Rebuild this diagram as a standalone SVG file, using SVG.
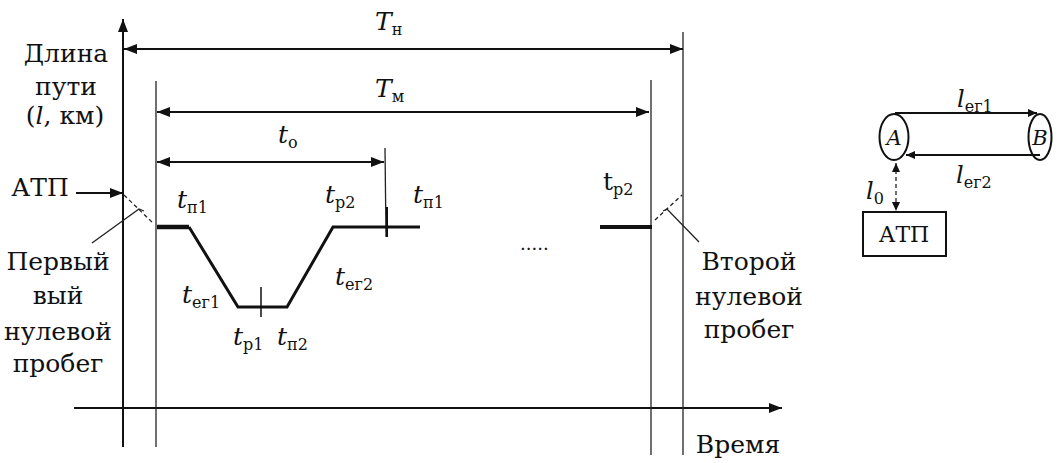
<svg xmlns="http://www.w3.org/2000/svg" width="1060" height="463" viewBox="0 0 1060 463">
<style>
text{fill:#111;font-family:"DejaVu Serif",serif}
.t{font-size:25px}
.s{font-size:16px;font-style:normal}
.i{font-style:italic}
.ln{stroke:#111;fill:none}
.thin{stroke:#222;stroke-width:1.3;fill:none}
.dash{stroke:#222;stroke-width:1.3;stroke-dasharray:4 3;fill:none}
</style>
<defs>
<marker id="ah" markerUnits="userSpaceOnUse" markerWidth="14" markerHeight="10" refX="13" refY="5" orient="auto-start-reverse">
<path d="M0,0 L13,5 L0,10 Z" fill="#111"/>
</marker>
<marker id="ahs" markerUnits="userSpaceOnUse" markerWidth="10" markerHeight="8" refX="9" refY="4" orient="auto-start-reverse">
<path d="M0,0 L9,4 L0,8 Z" fill="#111"/>
</marker>
</defs>
<rect width="1060" height="463" fill="#fff"/>

<g id="axes">
<line class="ln" x1="123" y1="447" x2="123" y2="19" stroke-width="2" marker-end="url(#ah)"/>
<line class="ln" x1="74" y1="408" x2="782" y2="408" stroke-width="2" marker-end="url(#ah)"/>
<text class="t" x="66" y="62" text-anchor="middle">Длина</text>
<text class="t" x="66" y="95" text-anchor="middle">пути</text>
<text class="t" x="65" y="124" text-anchor="middle">(<tspan class="i">l</tspan>, км)</text>
<text class="t" x="738" y="453" text-anchor="middle">Время</text>
</g>

<g id="boundaries">
<line class="thin" x1="156" y1="81" x2="156" y2="447"/>
<line class="thin" x1="651" y1="80" x2="651" y2="455"/>
<line class="thin" x1="683" y1="32" x2="683" y2="455"/>
<line class="thin" x1="385" y1="148" x2="386" y2="237"/>
</g>

<g id="connectors">
<line class="ln" x1="124" y1="49" x2="683" y2="49" stroke-width="2" marker-start="url(#ah)" marker-end="url(#ah)"/>
<line class="ln" x1="157" y1="112" x2="649" y2="112" stroke-width="2" marker-start="url(#ah)" marker-end="url(#ah)"/>
<line class="ln" x1="157" y1="162" x2="384" y2="162" stroke-width="2" marker-start="url(#ah)" marker-end="url(#ah)"/>
<line class="ln" x1="76" y1="193" x2="123" y2="193" stroke-width="2" marker-end="url(#ah)"/>
<line class="dash" x1="124" y1="195" x2="154" y2="224"/>
<polyline class="thin" points="92,243 139,209 144,211"/>
<line class="dash" x1="655" y1="220" x2="682" y2="195"/>
<polyline class="thin" points="699,242 667,209 663,211"/>
</g>

<g id="labels">
<text class="t i" x="375" y="30">T<tspan class="s" dy="5">н</tspan></text>
<text class="t i" x="375" y="97">T<tspan class="s" dy="5">м</tspan></text>
<text class="t i" x="278" y="143">t<tspan class="s" dy="5">о</tspan></text>
<text class="t i" x="177" y="208">t<tspan class="s" dy="5">п1</tspan></text>
<text class="t i" x="325" y="203">t<tspan class="s" dy="5">р2</tspan></text>
<text class="t i" x="413" y="203">t<tspan class="s" dy="5">п1</tspan></text>
<text class="t i" x="182" y="303">t<tspan class="s" dy="5">ег1</tspan></text>
<text class="t i" x="335" y="285">t<tspan class="s" dy="5">ег2</tspan></text>
<text class="t i" x="233" y="345">t<tspan class="s" dy="5">р1</tspan></text>
<text class="t i" x="277" y="345">t<tspan class="s" dy="5">п2</tspan></text>
<text class="t" x="603" y="190">t<tspan class="s" dy="5">р2</tspan></text>
<text x="520" y="250" font-size="18">.....</text>
<text class="t" x="40" y="196" text-anchor="middle">АТП</text>
<g text-anchor="middle">
<text class="t" x="58" y="270">Первый</text>
<text class="t" x="58" y="304">вый</text>
<text class="t" x="58" y="340">нулевой</text>
<text class="t" x="58" y="372">пробег</text>
<text class="t" x="749" y="270">Второй</text>
<text class="t" x="749" y="305">нулевой</text>
<text class="t" x="749" y="338">пробег</text>
</g>
</g>

<g id="trace">
<line class="ln" x1="157" y1="227" x2="189" y2="227" stroke-width="4.5"/>
<polyline class="ln" points="189,227 238,307 287,307 333,227 420,227" stroke-width="3" stroke-linejoin="miter"/>
<line class="ln" x1="261" y1="287" x2="261" y2="317" stroke-width="1.5"/>
<line class="ln" x1="387" y1="207" x2="387" y2="237" stroke-width="2"/>
<line class="ln" x1="600" y1="227" x2="652" y2="227" stroke-width="4"/>
</g>

<g id="nodeA">
<ellipse cx="894" cy="137" rx="14.5" ry="23" fill="#fff" stroke="#111" stroke-width="2"/>
<text class="i" x="894" y="145" text-anchor="middle" font-size="21">A</text>
</g>
<g id="nodeB">
<ellipse cx="1040" cy="137" rx="11.5" ry="23" fill="#fff" stroke="#111" stroke-width="2"/>
<text class="i" x="1040" y="145" text-anchor="middle" font-size="21">B</text>
</g>
<g id="nodeATP">
<rect x="863" y="212" width="83" height="44" fill="#fff" stroke="#111" stroke-width="2"/>
<text x="904" y="242" text-anchor="middle" font-size="22">АТП</text>
</g>
<g id="route-connectors">
<line class="ln" x1="895" y1="113" x2="1037" y2="113" stroke-width="2" marker-end="url(#ahs)"/>
<line class="ln" x1="1040" y1="155" x2="906" y2="155" stroke-width="2" marker-end="url(#ahs)"/>
<line class="dash" x1="896" y1="163" x2="896" y2="211" stroke-width="1.6" marker-start="url(#ahs)" marker-end="url(#ahs)"/>
<text class="i" x="957" y="107" font-size="24">l<tspan class="s" dy="5">ег1</tspan></text>
<text class="i" x="956" y="183" font-size="24">l<tspan class="s" dy="5">ег2</tspan></text>
<text class="i" x="866" y="199" font-size="24">l<tspan class="s" dy="5">0</tspan></text>
</g>
</svg>
